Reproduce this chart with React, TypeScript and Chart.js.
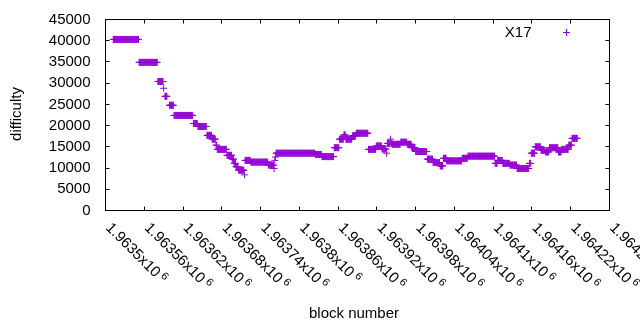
import React, { useEffect, useRef } from "react";
import { Chart, registerables } from "chart.js";

Chart.register(...registerables);

// ---- data ----
const BASE_BLOCK = 1963500;
// runs of constant difficulty, block offsets from BASE_BLOCK
const runStart = [12, 52, 81, 90, 92, 99, 106, 136, 143, 157, 165, 171, 173, 188, 196, 199, 202, 206, 215, 216, 225, 252, 261, 262, 263, 264, 325, 335, 354, 362, 369, 372, 382, 388, 407, 419, 428, 435, 436, 441, 442, 444, 457, 467, 474, 480, 498, 507, 518, 523, 528, 552, 561, 603, 607, 615, 626, 637, 656, 659, 665, 674, 681, 687, 701, 706, 717, 722];
const runEnd = [51, 80, 89, 90, 95, 105, 135, 142, 156, 164, 170, 172, 187, 195, 198, 201, 205, 214, 215, 224, 251, 260, 261, 262, 263, 324, 334, 353, 361, 368, 371, 381, 387, 406, 418, 427, 434, 435, 440, 441, 443, 456, 466, 473, 479, 497, 506, 517, 522, 527, 551, 560, 602, 606, 614, 625, 636, 655, 658, 664, 673, 680, 686, 700, 705, 716, 721, 730];
const runDifficulty = [40300, 34900, 30400, 28800, 26900, 24800, 22400, 20500, 19800, 17700, 16800, 15400, 14400, 13000, 12100, 11100, 10300, 9500, 8400, 11800, 11400, 10700, 9900, 11800, 12600, 13500, 13200, 12700, 14800, 16800, 17800, 16800, 17600, 18200, 14400, 15200, 14500, 13500, 15800, 16800, 15800, 15600, 16100, 15600, 14800, 13900, 12100, 11300, 10500, 12300, 11700, 12300, 12800, 11100, 11800, 11100, 10700, 9900, 11100, 13500, 15000, 14200, 13800, 14800, 13800, 14400, 15400, 17000];

const xTickValues = [1963500, 1963560, 1963620, 1963680, 1963740, 1963800, 1963860, 1963920, 1963980, 1964040, 1964100, 1964160, 1964220, 1964280];
const xTickMantissa = ["1.9635", "1.96356", "1.96362", "1.96368", "1.96374", "1.9638", "1.96386", "1.96392", "1.96398", "1.96404", "1.9641", "1.96416", "1.96422", "1.96428"];
const xTickExponent = "6";
const yTickValues = [0, 5000, 10000, 15000, 20000, 25000, 30000, 35000, 40000, 45000];

const seriesLabel = "X17";
const xTitle = "block number";
const yTitle = "difficulty";

const PURPLE = "#9400d3";
const FONT = '"Liberation Sans", Arial, sans-serif';
const TICK = 4;

const framePlugin = {
  id: "gnuplotFrame",
  afterDraw(chart: any) {
    const { ctx, chartArea: a, scales } = chart;
    const xs = scales.x;
    const ys = scales.y;
    ctx.save();
    ctx.strokeStyle = "#000";
    ctx.lineWidth = 1;
    ctx.strokeRect(a.left, a.top, a.right - a.left, a.bottom - a.top);
    ctx.beginPath();
    for (const v of xTickValues) {
      const px = Math.floor(xs.getPixelForValue(v)) + 0.5;
      ctx.moveTo(px, a.bottom);
      ctx.lineTo(px, a.bottom - TICK);
      ctx.moveTo(px, a.top);
      ctx.lineTo(px, a.top + TICK);
    }
    for (const v of yTickValues) {
      const py = Math.floor(ys.getPixelForValue(v)) + 0.5;
      ctx.moveTo(a.left, py);
      ctx.lineTo(a.left + TICK, py);
      ctx.moveTo(a.right, py);
      ctx.lineTo(a.right - TICK, py);
    }
    ctx.stroke();

    ctx.fillStyle = "#000";
    ctx.font = `15px ${FONT}`;
    // y tick labels
    ctx.textAlign = "right";
    ctx.textBaseline = "middle";
    for (const v of yTickValues) {
      ctx.fillText(String(v), a.left - 15, ys.getPixelForValue(v));
    }
    // x tick labels (rotated)
    xTickValues.forEach((v, i) => {
      const px = xs.getPixelForValue(v);
      ctx.save();
      ctx.translate(px + 2.5, a.bottom + 15);
      ctx.rotate(Math.PI / 4);
      ctx.textAlign = "left";
      ctx.textBaseline = "middle";
      ctx.font = `15px ${FONT}`;
      const main = xTickMantissa[i] + "x10";
      ctx.fillText(main, 0, 0);
      const w = ctx.measureText(main).width;
      ctx.font = `11px ${FONT}`;
      ctx.fillText(xTickExponent, w + 3, -4);
      ctx.restore();
    });
    // axis titles
    ctx.font = `15px ${FONT}`;
    ctx.save();
    ctx.translate(17, 114);
    ctx.rotate(-Math.PI / 2);
    ctx.textAlign = "center";
    ctx.textBaseline = "middle";
    ctx.fillText(yTitle, 0, 0);
    ctx.restore();
    ctx.textAlign = "center";
    ctx.textBaseline = "alphabetic";
    ctx.fillText(xTitle, 354, 317.5);
    // legend
    ctx.textAlign = "right";
    ctx.textBaseline = "middle";
    ctx.fillText(seriesLabel, a.right - 78, 32.5);
    ctx.strokeStyle = PURPLE;
    ctx.beginPath();
    const lx = a.right - 43;
    const ly = 32.5;
    ctx.moveTo(lx - 3.5, ly);
    ctx.lineTo(lx + 3.5, ly);
    ctx.moveTo(lx, ly - 3.5);
    ctx.lineTo(lx, ly + 3.5);
    ctx.stroke();
    ctx.restore();
  },
};

export default function App() {
  const ref = useRef<HTMLCanvasElement>(null);
  useEffect(() => {
    const canvas = ref.current!;
    const points: { x: number; y: number }[] = [];
    for (let i = 0; i < runStart.length; i++) {
      for (let b = runStart[i]; b <= runEnd[i]; b++) {
        points.push({ x: BASE_BLOCK + b, y: runDifficulty[i] });
      }
    }
    const chart = new Chart(canvas, {
      type: "scatter",
      data: {
        datasets: [
          {
            label: seriesLabel,
            data: points,
            pointStyle: "cross",
            pointRadius: 3.5,
            pointHoverRadius: 3.5,
            pointBorderWidth: 1,
            borderColor: PURPLE,
            backgroundColor: PURPLE,
          },
        ],
      },
      options: {
        responsive: false,
        animation: false,
        devicePixelRatio: 1,
        events: [],
        layout: { padding: { left: 105.5, right: 30.5, top: 19.5, bottom: 119.5 } },
        scales: {
          x: { type: "linear", display: false, min: xTickValues[0], max: xTickValues[xTickValues.length - 1] },
          y: { type: "linear", display: false, min: yTickValues[0], max: yTickValues[yTickValues.length - 1] },
        },
        plugins: { legend: { display: false }, tooltip: { enabled: false } },
      },
      plugins: [framePlugin],
    });
    return () => chart.destroy();
  }, []);
  return (
    <div style={{ position: "absolute", left: 0, top: 0, width: 640, height: 330 }}>
      <canvas ref={ref} width={640} height={330} style={{ display: "block" }} />
    </div>
  );
}
